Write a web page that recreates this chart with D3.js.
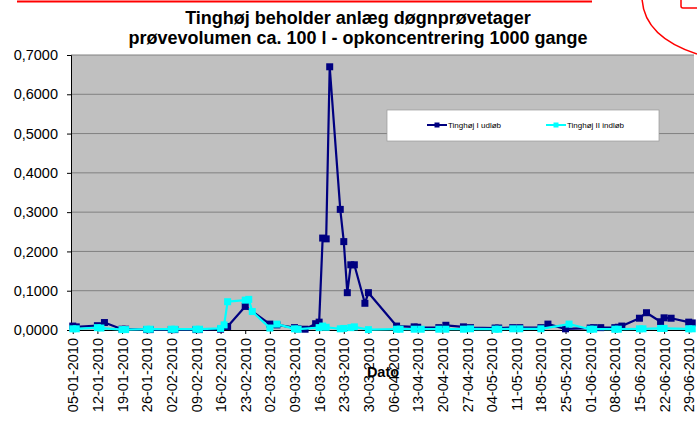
<!DOCTYPE html>
<html>
<head>
<meta charset="utf-8">
<script src="https://cdn.jsdelivr.net/npm/d3@7"></script>
<style>
body { margin: 0; background: #fff; }
text { font-family: Arial, "Liberation Sans", sans-serif; }
</style>
</head>
<body>
<div id="chart"></div>
<script>
// chart size
const w = 697;
const h = 430;
const plot = {left: 71, right: 694, top: 55, bottom: 330};

// data
const udlobDates = ["05-01-2010","06-01-2010","12-01-2010","14-01-2010","19-01-2010","20-01-2010",
  "26-01-2010","27-01-2010","02-02-2010","03-02-2010","09-02-2010","10-02-2010","16-02-2010",
  "18-02-2010","23-02-2010","02-03-2010","04-03-2010","09-03-2010","10-03-2010","12-03-2010",
  "15-03-2010","16-03-2010","17-03-2010","18-03-2010","19-03-2010","22-03-2010","23-03-2010",
  "24-03-2010","25-03-2010","26-03-2010","29-03-2010","30-03-2010","07-04-2010","12-04-2010",
  "13-04-2010","19-04-2010","21-04-2010","26-04-2010","28-04-2010","05-05-2010","06-05-2010",
  "10-05-2010","12-05-2010","18-05-2010","20-05-2010","25-05-2010","01-06-2010","02-06-2010",
  "04-06-2010","08-06-2010","09-06-2010","10-06-2010","15-06-2010","17-06-2010","21-06-2010",
  "22-06-2010","24-06-2010","29-06-2010","30-06-2010"];
const udlobValues = [0.010,0.008,0.011,0.019,0.002,0.002,
  0.001,0.001,0.001,0.001,0.001,0.001,0.002,
  0.009,0.060,0.015,0.013,0.006,0.003,0.002,
  0.016,0.020,0.234,0.232,0.670,0.307,0.225,
  0.095,0.166,0.166,0.068,0.095,0.010,0.008,
  0.007,0.006,0.012,0.008,0.006,0.005,0.005,
  0.006,0.006,0.006,0.015,0.003,0.005,0.006,
  0.006,0.006,0.007,0.010,0.030,0.044,0.021,
  0.031,0.030,0.020,0.018];

const indlobDates = ["05-01-2010","06-01-2010","12-01-2010","13-01-2010","19-01-2010","20-01-2010",
  "26-01-2010","27-01-2010","02-02-2010","03-02-2010","09-02-2010","10-02-2010","16-02-2010",
  "17-02-2010","18-02-2010","23-02-2010","24-02-2010","25-02-2010","02-03-2010","04-03-2010",
  "09-03-2010","10-03-2010","16-03-2010","17-03-2010","18-03-2010","22-03-2010","23-03-2010",
  "25-03-2010","26-03-2010","30-03-2010","07-04-2010","08-04-2010","12-04-2010","14-04-2010",
  "19-04-2010","21-04-2010","26-04-2010","28-04-2010","05-05-2010","06-05-2010","10-05-2010",
  "12-05-2010","18-05-2010","26-05-2010","01-06-2010","02-06-2010","08-06-2010","09-06-2010",
  "15-06-2010","16-06-2010","21-06-2010","22-06-2010","29-06-2010","30-06-2010"];
const indlobValues = [0.003,0.003,0.006,0.005,0.001,0.001,
  0.002,0.002,0.002,0.002,0.002,0.002,0.004,
  0.013,0.072,0.076,0.078,0.047,0.005,0.015,
  0.003,0.002,0.006,0.010,0.007,0.003,0.004,
  0.006,0.008,0.001,0.002,0.002,0.002,0.002,
  0.002,0.002,0.002,0.003,0.002,0.002,0.003,
  0.003,0.003,0.015,0.002,0.002,0.002,0.002,
  0.003,0.003,0.004,0.004,0.003,0.003];

const tickLabels = ["05-01-2010","12-01-2010","19-01-2010","26-01-2010","02-02-2010","09-02-2010",
  "16-02-2010","23-02-2010","02-03-2010","09-03-2010","16-03-2010","23-03-2010","30-03-2010",
  "06-04-2010","13-04-2010","20-04-2010","27-04-2010","04-05-2010","11-05-2010","18-05-2010",
  "25-05-2010","01-06-2010","08-06-2010","15-06-2010","22-06-2010","29-06-2010"];
const yTicks = [0, 0.1, 0.2, 0.3, 0.4, 0.5, 0.6, 0.7];

const seriesNames = ["Tinghøj I udløb", "Tinghøj II indløb"];
const seriesColors = ["#000080", "#00FFFF"];

const parseDate = d3.timeParse("%d-%m-%Y");
const udlob = udlobDates.map((d, i) => ({date: parseDate(d), value: udlobValues[i]}));
const indlob = indlobDates.map((d, i) => ({date: parseDate(d), value: indlobValues[i]}));

// danish number format
const dk = d3.formatLocale({decimal: ",", thousands: ".", grouping: [3], currency: ["", " kr"]});

const svg = d3.select("#chart")
  .append("svg")
    .attr("width", w)
    .attr("height", h);

// red marks at the top (cut-off drawing around the chart)
svg.append("line")
  .attr("x1", 17).attr("x2", 592)
  .attr("y1", 1.5).attr("y2", 1.5)
  .attr("stroke", "red").attr("stroke-width", 2);
svg.append("path")
  .attr("d", "M642,-2 C643,22 660,42 697,54")
  .attr("fill", "none").attr("stroke", "red").attr("stroke-width", 1.5);
svg.append("rect")
  .attr("x", 681).attr("y", -10).attr("width", 30).attr("height", 18).attr("rx", 2)
  .attr("fill", "none").attr("stroke", "red").attr("stroke-width", 1.5);

// scales
const xScale = d3.scaleTime()
  .domain([new Date(2010, 0, 4, 12), new Date(2010, 5, 30, 12)])
  .range([plot.left, plot.right]);

const yScale = d3.scaleLinear()
  .domain([0, 0.7])
  .range([plot.bottom, plot.top]);

// plot background
svg.append("rect")
  .attr("x", plot.left)
  .attr("y", plot.top)
  .attr("width", plot.right - plot.left)
  .attr("height", plot.bottom - plot.top)
  .attr("fill", "#C0C0C0");

// horizontal gridlines
svg.selectAll("line.grid")
  .data(yTicks.filter(d => d > 0))
  .enter()
  .append("line")
  .attr("class", "grid")
  .attr("x1", plot.left)
  .attr("x2", plot.right)
  .attr("y1", d => yScale(d))
  .attr("y2", d => yScale(d))
  .attr("stroke", "#808080")
  .attr("stroke-width", 1);

// y axis
const yAxis = d3.axisLeft(yScale)
  .tickValues(yTicks)
  .tickFormat(dk.format(".4f"))
  .tickSize(4)
  .tickPadding(9);

svg.append("g")
  .attr("transform", `translate(${plot.left}, 0)`)
  .call(yAxis)
  .call(g => g.selectAll("path, line").attr("stroke", "#000"))
  .call(g => g.selectAll("text")
    .attr("font-size", "14.5px")
    .attr("font-family", "Arial, 'Liberation Sans', sans-serif")
    .attr("fill", "#000"));

// x axis
const xAxis = d3.axisBottom(xScale)
  .tickValues(tickLabels.map(parseDate))
  .tickFormat(d3.timeFormat("%d-%m-%Y"))
  .tickSize(4)
  .tickSizeOuter(0);

svg.append("g")
  .attr("transform", `translate(0, ${plot.bottom})`)
  .call(xAxis)
  .call(g => g.selectAll("path, line").attr("stroke", "#000"))
  .call(g => g.selectAll("text")
    .attr("font-size", "14.5px")
    .attr("font-family", "Arial, 'Liberation Sans', sans-serif")
    .attr("fill", "#000")
    .attr("transform", "rotate(-90)")
    .attr("text-anchor", "end")
    .attr("x", -8)
    .attr("y", 0)
    .attr("dy", "0.35em"));

// lines
const line = d3.line()
  .x(d => xScale(d.date))
  .y(d => yScale(d.value));

[udlob, indlob].forEach(function(series, i) {
  svg.append("path")
    .datum(series)
    .attr("fill", "none")
    .attr("stroke", seriesColors[i])
    .attr("stroke-width", 2.2)
    .attr("stroke-linejoin", "round")
    .attr("d", line);

  svg.selectAll("rect.m" + i)
    .data(series)
    .enter()
    .append("rect")
    .attr("class", "m" + i)
    .attr("x", d => xScale(d.date) - 3.5)
    .attr("y", d => yScale(d.value) - 3.5)
    .attr("width", 7)
    .attr("height", 7)
    .attr("fill", seriesColors[i]);
});

// title
svg.append("text")
  .attr("x", 358)
  .attr("y", 24)
  .attr("text-anchor", "middle")
  .attr("font-size", "18px")
  .attr("font-weight", "bold")
  .text("Tinghøj beholder anlæg døgnprøvetager");

svg.append("text")
  .attr("x", 358)
  .attr("y", 44)
  .attr("text-anchor", "middle")
  .attr("font-size", "18px")
  .attr("font-weight", "bold")
  .text("prøvevolumen ca. 100 l - opkoncentrering 1000 gange");

// x axis title
svg.append("text")
  .attr("x", 383)
  .attr("y", 377)
  .attr("text-anchor", "middle")
  .attr("font-size", "14.5px")
  .attr("font-weight", "bold")
  .text("Dato");

// legend
const legend = svg.append("g")
  .attr("transform", "translate(387, 110)");

legend.append("rect")
  .attr("width", 272)
  .attr("height", 31)
  .attr("fill", "#fff")
  .attr("stroke", "#999")
  .attr("stroke-width", 0.7);

const legendX = [40, 159];
seriesNames.forEach(function(name, i) {
  legend.append("line")
    .attr("x1", legendX[i])
    .attr("x2", legendX[i] + 20)
    .attr("y1", 15)
    .attr("y2", 15)
    .attr("stroke", seriesColors[i])
    .attr("stroke-width", 2);
  legend.append("rect")
    .attr("x", legendX[i] + 7.5)
    .attr("y", 12.5)
    .attr("width", 5)
    .attr("height", 5)
    .attr("fill", seriesColors[i]);
  legend.append("text")
    .attr("x", legendX[i] + 21)
    .attr("y", 18)
    .attr("font-size", "8px")
    .attr("fill", "#000")
    .text(name);
});
</script>
</body>
</html>
